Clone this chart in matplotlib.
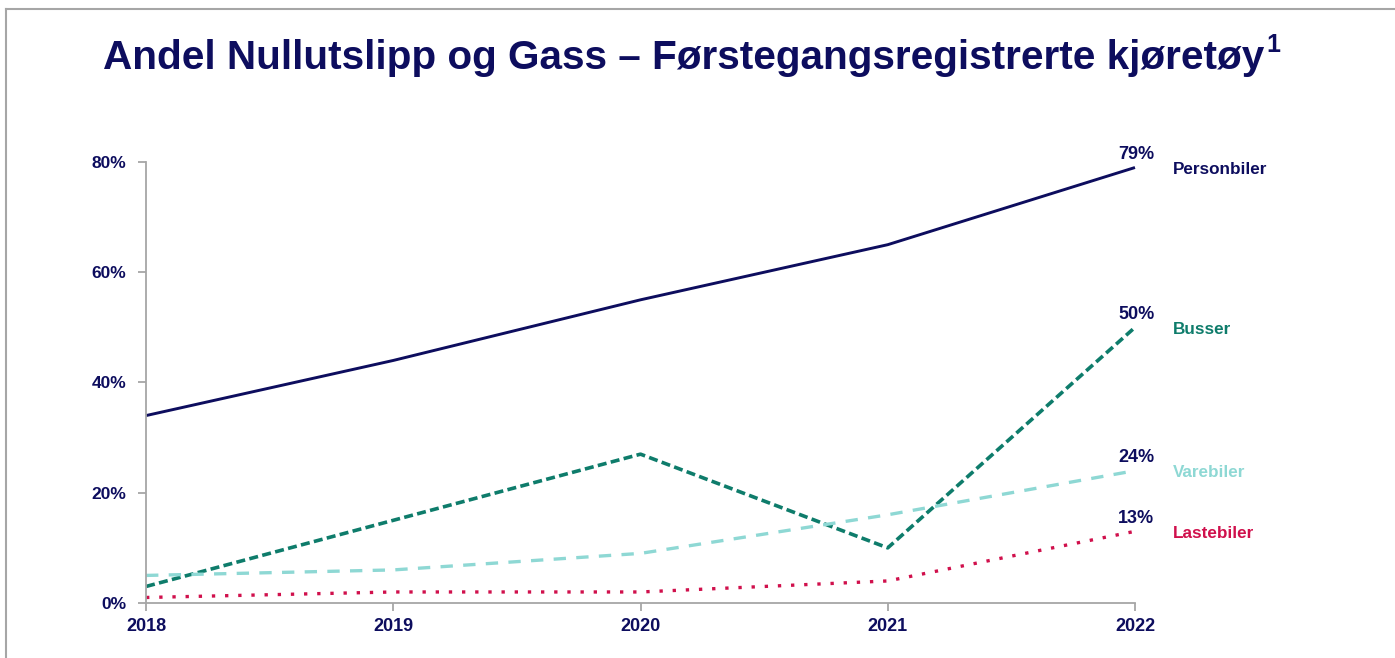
import matplotlib
matplotlib.use("Agg")
import matplotlib.pyplot as plt
from matplotlib.lines import Line2D
from matplotlib.ticker import FuncFormatter

years = [2018, 2019, 2020, 2021, 2022]
personbiler = [34, 44, 55, 65, 79]
busser = [3, 15, 27, 10, 50]
varebiler = [5, 6, 9, 16, 24]
lastebiler = [1, 2, 2, 4, 13]
series_names = ["Personbiler", "Busser", "Varebiler", "Lastebiler"]
yticks = [0, 20, 40, 60, 80]

NAVY = "#0D0D5E"
TEAL = "#0E7C6B"
LIGHT = "#8ED8D4"
RED = "#D0104C"
GRAY = "#A6A6A6"

plt.rcParams['font.family'] = ['Liberation Sans', 'DejaVu Sans']

fig = plt.figure(figsize=(13.95, 6.58), dpi=100)
ax = fig.add_axes([0.1047, 0.0836, 0.7089, 0.6702])

styles = [
    dict(color=NAVY, lw=2.1, ls='-'),
    dict(color=TEAL, lw=2.6, ls=(0, (2.5, 1.2))),
    dict(color=LIGHT, lw=2.4, ls=(0, (3.7, 3.1))),
    dict(color=RED, lw=2.4, ls=(0, (1.0, 2.95))),
]
data = [personbiler, busser, varebiler, lastebiler]
label_colors = [NAVY, TEAL, LIGHT, RED]

for vals, st, name, lc in zip(data, styles, series_names, label_colors):
    ax.plot(years, vals, clip_on=False, solid_capstyle='butt', dash_capstyle='butt', **st)
    ax.annotate(f"{vals[-1]}%", (years[-1], vals[-1]), xytext=(1, 9.5),
                textcoords='offset points', ha='center', va='center',
                fontsize=13, fontweight='bold', color=NAVY)
    ax.annotate(name, (years[-1], vals[-1]), xytext=(27, -1.5),
                textcoords='offset points', ha='left', va='center',
                fontsize=12.3, fontweight='bold', color=lc)

ax.set_xlim(years[0], years[-1])
ax.set_ylim(0, 80)
ax.set_xticks(years)
ax.set_xticklabels([str(y) for y in years])
ax.set_yticks(yticks)
ax.yaxis.set_major_formatter(FuncFormatter(lambda v, p: f"{int(v)}%"))

for s in ['top', 'right']:
    ax.spines[s].set_visible(False)
for s in ['left', 'bottom']:
    ax.spines[s].set_color(GRAY)
    ax.spines[s].set_linewidth(1.3)

ax.tick_params(axis='both', colors=GRAY, width=1.3, length=6)
ax.tick_params(axis='x', pad=5)
ax.tick_params(axis='y', pad=8)
for lab in ax.get_xticklabels():
    lab.set_color(NAVY); lab.set_fontweight('bold'); lab.set_fontsize(13)
for lab in ax.get_yticklabels():
    lab.set_color(NAVY); lab.set_fontweight('bold'); lab.set_fontsize(12.5)

t = fig.text(0.0738, 0.912, "Andel Nullutslipp og Gass – Førstegangsregistrerte kjøretøy",
             fontsize=29.2, fontweight='bold', color=NAVY, ha='left', va='center')
fig.canvas.draw()
bb = t.get_window_extent()
fig.text((bb.x1 + 2) / fig.bbox.width, 0.932, "1",
         fontsize=18, fontweight='bold', color=NAVY, ha='left', va='center')

# slide border (top and left)
fig.add_artist(Line2D([0.0043, 1.0], [0.986, 0.986], transform=fig.transFigure, color=GRAY, lw=1.5))
fig.add_artist(Line2D([0.0043, 0.0043], [0.0, 0.986], transform=fig.transFigure, color=GRAY, lw=1.5))

fig.savefig("out.png", dpi=100)
